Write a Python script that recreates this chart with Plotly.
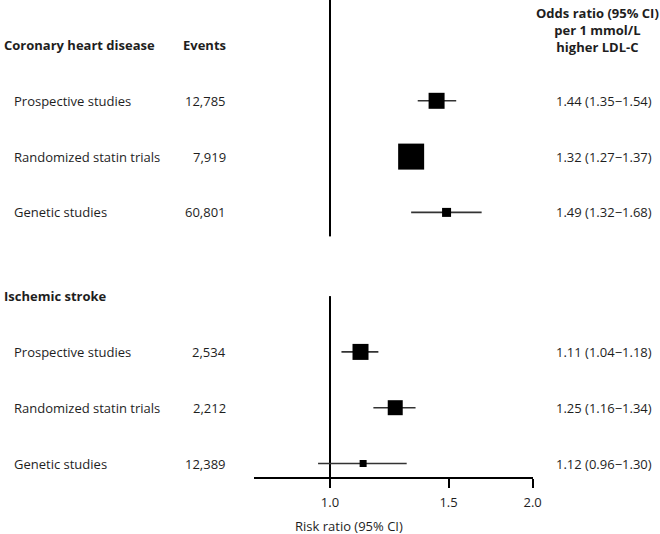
import math
import plotly.graph_objects as go

# ---------------- data ----------------
group_names = ["Coronary heart disease", "Ischemic stroke"]
study_labels = ["Prospective studies", "Randomized statin trials", "Genetic studies"]

chd_events = ["12,785", "7,919", "60,801"]
chd_or = [1.44, 1.32, 1.49]
chd_lo = [1.35, 1.27, 1.32]
chd_hi = [1.54, 1.37, 1.68]

stroke_events = ["2,534", "2,212", "12,389"]
stroke_or = [1.11, 1.25, 1.12]
stroke_lo = [1.04, 1.16, 0.96]
stroke_hi = [1.18, 1.34, 1.30]

tick_vals = [1.0, 1.5, 2.0]
tick_text = ["1.0", "1.5", "2.0"]

events_header = "Events"
value_header_lines = ["Odds ratio (95% CI)", "per 1 mmol/L", "higher LDL-C"]
axis_title = "Risk ratio (95% CI)"

# ---------------- styles / layout ----------------
chd_marker_px = [16, 26, 9]
stroke_marker_px = [16, 15, 7]

REF_W, H = 660, 534     # reference frame used for positions
FIG_W = 671             # rendered width (capture is slightly compressed)
FONT = "Open Sans"
TXT = "#1e1e1e"
row_px = 55.8          # pixels per row
first_row_px = 45      # pixel y of first header row
group_gap = 1.5        # extra rows between groups
axis_px = 477.7
axis_row = (axis_px - first_row_px) / row_px


def px_to_row(py):
    return (py - first_row_px) / row_px


def fx(px):
    return px / REF_W


group_data = [
    (chd_events, chd_or, chd_lo, chd_hi, chd_marker_px),
    (stroke_events, stroke_or, stroke_lo, stroke_hi, stroke_marker_px),
]

fig = go.Figure()
annotations = []
font = dict(family=FONT, size=13, color=TXT)

# reference lines at 1.0 (drawn first, beneath markers)
top_row = px_to_row(0)
stroke_header_row = 3 + group_gap
fig.add_trace(go.Scatter(
    x=[1.0, 1.0, None, 1.0, 1.0],
    y=[top_row, 3 + 0.43, None, stroke_header_row, axis_row],
    mode="lines", line=dict(color="black", width=2),
    hoverinfo="skip", showlegend=False))

start = 0.0
for gi, (events, ors, los, his, sizes) in enumerate(group_data):
    header_row = start
    rows = [header_row + 1 + i for i in range(len(ors))]
    annotations.append(dict(x=fx(2), y=header_row, xref="paper", yref="y",
                            text="<b>%s</b>" % group_names[gi], showarrow=False,
                            xanchor="left", yanchor="middle", font=font))
    if gi == 0:
        annotations.append(dict(x=fx(227), y=header_row, xref="paper", yref="y",
                                text="<b>%s</b>" % events_header, showarrow=False,
                                xanchor="right", yanchor="middle", font=font))
    for i, r in enumerate(rows):
        annotations.append(dict(x=fx(12), y=r, xref="paper", yref="y",
                                text=study_labels[i], showarrow=False,
                                xanchor="left", yanchor="middle", font=font))
        annotations.append(dict(x=fx(227), y=r, xref="paper", yref="y",
                                text=events[i], showarrow=False,
                                xanchor="right", yanchor="middle", font=font))
        annotations.append(dict(x=fx(552), y=r, xref="paper", yref="y",
                                text="%.2f (%.2f\u2212%.2f)" % (ors[i], los[i], his[i]),
                                showarrow=False, xanchor="left", yanchor="middle",
                                font=font))
    fig.add_trace(go.Scatter(
        x=ors, y=rows, mode="markers",
        marker=dict(symbol="square", size=sizes, color="black", opacity=1,
                    line=dict(width=0)),
        error_x=dict(type="data", symmetric=False,
                     array=[h - o for h, o in zip(his, ors)],
                     arrayminus=[o - l for o, l in zip(ors, los)],
                     width=0, thickness=1.6, color="#333333"),
        hoverinfo="skip", showlegend=False, cliponaxis=False))
    start = rows[-1] + group_gap

# column header (right)
annotations.append(dict(x=fx(596), y=1 - 30 / H, xref="paper", yref="paper",
                        text="<br>".join("<b>%s</b>" % s for s in value_header_lines),
                        showarrow=False, align="center",
                        xanchor="center", yanchor="middle", font=font))
# axis title
annotations.append(dict(x=fx(348), y=1 - 526 / H, xref="paper", yref="paper",
                        text=axis_title, showarrow=False,
                        xanchor="center", yanchor="middle", font=font))

x_left_px, x_one_px, x_right_px = 253, 329, 531
frac = (x_one_px - x_left_px) / (x_right_px - x_left_px)
log_span = math.log10(2.0) / (1 - frac)
x_range = [-frac * log_span, math.log10(2.0)]

fig.update_layout(
    width=FIG_W, height=H,
    margin=dict(l=0, r=0, t=0, b=0),
    paper_bgcolor="white", plot_bgcolor="rgba(0,0,0,0)",
    annotations=annotations,
    xaxis=dict(type="log", range=x_range,
               domain=[fx(x_left_px), fx(x_right_px)],
               anchor="free", position=1 - axis_px / H,
               showline=True, linecolor="black", linewidth=2,
               ticks="outside", ticklen=9, tickwidth=2, tickcolor="black",
               ticklabelstandoff=4,
               tickvals=tick_vals, ticktext=tick_text,
               tickfont=font,
               showgrid=False, zeroline=False, fixedrange=True),
    yaxis=dict(range=[px_to_row(H), px_to_row(0)], domain=[0, 1],
               visible=False, showgrid=False, zeroline=False, fixedrange=True),
)

fig.write_html(
    "out.html",
    config={"displayModeBar": False},
    post_script="document.body.style.margin='0';document.body.style.overflow='hidden';",
)
